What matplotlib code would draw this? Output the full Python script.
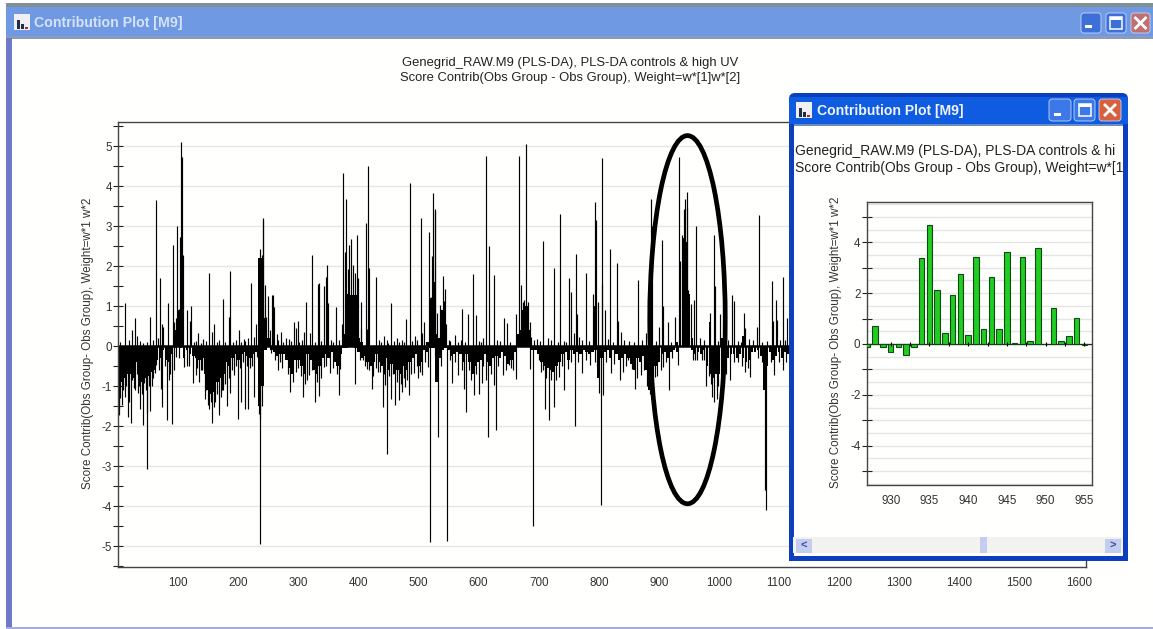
import numpy as np
import matplotlib
matplotlib.use("Agg")
import matplotlib.pyplot as plt
from matplotlib.patches import Rectangle, Ellipse, FancyBboxPatch

plt.rcParams['font.family'] = ['Liberation Sans', 'DejaVu Sans']
plt.rcParams['axes.unicode_minus'] = False

W, H = 1153, 629

# main plot, tall single observations
pos_obs = [12, 24, 29, 31, 54, 63, 70, 73, 75, 83, 92, 94, 96, 99, 101, 103, 104, 106, 108,
           115, 119, 122, 133, 151, 156, 159, 174, 185, 187, 201, 217, 221, 226, 230, 234,
           236, 237, 239, 241, 242, 244, 246, 249, 253, 257, 258, 260, 264, 271, 284, 293,
           296, 299, 310, 312, 319, 323, 332, 334, 343, 346, 348, 350, 362, 368, 372, 375,
           377, 380, 382, 384, 387, 391, 394, 398, 399, 404, 405, 413, 414, 416, 418, 429,
           443, 455, 480, 486, 494, 504, 506, 509, 518, 520, 522, 524, 525, 527, 528, 531,
           535, 536, 540, 542, 544, 546, 560, 573, 583, 590, 595, 608, 613, 618, 626, 643,
           647, 662, 667, 671, 674, 676, 679, 681, 683, 685, 687, 708, 715, 726, 736, 751,
           754, 758, 762, 764, 767, 778, 790, 794, 796, 798, 805, 806, 810, 819, 830, 832,
           837, 866, 879, 887, 889, 900, 905, 907, 916, 926, 934, 935, 939, 941, 942, 944,
           946, 947, 949, 953, 959, 962, 985, 991, 993, 1002, 1022, 1025, 1041, 1044, 1063,
           1066, 1088, 1090, 1095, 1097, 1106, 1113]
pos_val = [1.07, 0.40, 0.69, 0.25, 0.72, 3.65, 1.71, 0.55, 0.48, 1.07, 2.53, 0.60, 0.69, 3.00,
           0.92, 2.72, 5.10, 4.72, 2.27, 0.90, 0.63, 1.00, 0.33, 1.82, 0.36, 0.55, 1.17, 0.72,
           1.87, 0.40, 0.19, 1.58, 0.22, 0.55, 1.57, 2.42, 2.20, 2.28, 3.15, 3.20, 1.52, 0.73,
           1.25, 0.40, 1.28, 1.28, 0.98, 0.30, 0.36, 0.17, 0.60, 0.44, 0.63, 0.36, 1.10, 0.32,
           2.27, 1.55, 1.57, 1.50, 1.73, 2.03, 1.07, 0.98, 0.15, 0.55, 4.32, 2.36, 3.68, 1.92,
           2.52, 2.68, 2.03, 1.83, 2.78, 1.71, 0.44, 1.09, 3.08, 0.42, 4.50, 1.94, 1.73, 0.25,
           1.07, 0.67, 4.07, 0.25, 3.19, 0.33, 0.60, 2.84, 1.23, 2.25, 3.82, 1.61, 3.42, 3.38,
           0.82, 1.02, 0.27, 1.76, 1.13, 1.42, 0.55, 0.28, 0.92, 0.80, 1.79, 0.77, 0.19, 4.75,
           2.50, 1.77, 0.69, 0.57, 0.80, 4.75, 1.52, 1.10, 1.15, 5.04, 0.98, 1.10, 0.60, 0.23,
           2.62, 0.19, 1.96, 3.30, 1.71, 1.36, 0.32, 2.30, 0.80, 0.23, 1.82, 1.30, 3.59, 3.15,
           1.10, 4.69, 1.52, 0.90, 2.42, 2.08, 0.63, 0.36, 1.65, 0.33, 3.67, 3.00, 0.48, 2.65,
           1.00, 0.60, 0.73, 4.72, 2.13, 2.78, 3.42, 2.65, 3.67, 3.44, 3.86, 1.40, 1.05, 1.15,
           3.00, 0.82, 2.78, 1.50, 0.79, 1.28, 1.12, 0.82, 0.44, 0.47, 3.27, 1.63, 0.63, 1.15,
           0.65, 1.73, 0.69]
# short ones that stand just above the zero line
low_obs = [4, 18, 36, 42, 48, 58, 66, 126, 129, 138, 142, 146, 164, 168, 178, 192, 196, 205, 210,
           212, 266, 275, 280, 288, 302, 306, 327, 338, 354, 358, 435, 438, 447, 450, 460, 464,
           468, 472, 476, 490, 498, 512, 550, 553, 565, 570, 578, 600, 604, 630, 636, 652, 692,
           698, 703, 720, 732, 742, 746, 772, 784, 815, 824, 842, 850, 858, 872, 895, 920, 968,
           975, 998, 1010, 1015, 1032, 1036, 1050, 1056, 1072, 1080, 1102, 1110]
low_val = [.1, .15, .12, .08, .1, .14, .2, .1, .12, .08, .18, .12, .1, .16, .1, .1, .14, .1, .18,
           .12, .15, .1, .2, .12, .1, .14, .1, .12, .16, .1, .14, .1, .15, .08, .12, .2, .1, .14,
           .1, .12, .16, .1, .15, .12, .1, .14, .1, .12, .1, .16, .12, .1, .14, .18, .12, .15, .1,
           .12, .1, .14, .12, .18, .1, .14, .12, .1, .16, .12, .1, .2, .14, .12, .1, .16, .12, .1,
           .18, .14, .1, .12, .16, .14]

neg_obs = [1, 2, 6, 11, 16, 19, 21, 23, 28, 33, 37, 42, 44, 48, 49, 54, 58, 61, 64, 71, 73, 82,
           85, 90, 97, 110, 124, 129, 135, 140, 145, 149, 152, 156, 159, 168, 171, 175, 182,
           186, 193, 200, 205, 212, 217, 226, 231, 236, 237, 255, 267, 273, 287, 296, 307, 314,
           318, 328, 335, 342, 353, 368, 369, 394, 407, 415, 422, 425, 436, 441, 445, 448, 454,
           461, 468, 473, 478, 484, 493, 500, 506, 516, 519, 533, 547, 556, 565, 576, 579, 588,
           592, 601, 605, 612, 616, 625, 629, 640, 650, 658, 662, 686, 690, 704, 710, 717, 726,
           734, 742, 749, 760, 772, 785, 793, 801, 803, 807, 821, 835, 841, 849, 855, 860, 871,
           880, 893, 907, 917, 931, 956, 964, 971, 978, 989, 992, 996, 1018, 1032, 1044, 1052,
           1076, 1078, 1092, 1107]
neg_val = [-1.73, -1.56, -1.48, -1.27, -1.77, -1.39, -1.93, -0.85, -1.10, -1.18, -1.56, -1.98,
           -0.93, -1.68, -3.08, -1.62, -0.80, -0.68, -0.47, -1.08, -1.52, -1.85, -0.85, -1.95,
           -0.27, -0.52, -0.93, -0.72, -0.89, -0.60, -1.31, -1.48, -1.56, -1.92, -1.52, -1.73,
           -1.27, -1.10, -1.49, -1.18, -0.72, -1.83, -1.39, -1.58, -1.56, -1.28, -0.27, -1.81,
           -4.95, -0.18, -0.60, -0.55, -1.14, -0.64, -1.27, -0.85, -0.72, -1.39, -1.25, -0.52,
           -0.68, -1.22, -0.56, -0.95, -0.35, -0.56, -1.06, -0.75, -0.64, -1.52, -0.98, -2.70,
           -1.31, -1.48, -1.35, -1.14, -1.02, -1.22, -0.68, -0.80, -0.72, -0.52, -4.89, -2.27,
           -4.87, -0.93, -0.72, -1.08, -1.64, -0.85, -1.22, -1.20, -0.93, -0.85, -2.27, -0.98,
           -2.10, -0.72, -0.47, -0.60, -0.83, -0.56, -4.50, -0.64, -1.56, -1.85, -1.52, -0.77,
           -1.10, -0.56, -2.00, -0.68, -0.47, -0.39, -1.18, -3.97, -1.22, -0.68, -0.85, -0.64,
           -0.35, -0.56, -1.06, -0.72, -0.99, -0.77, -0.52, -1.10, -0.47, -0.35, -0.35, -0.35,
           -1.00, -1.27, -1.39, -1.31, -0.85, -0.40, -0.64, -0.77, -3.60, -4.10, -0.72, -0.60]
# mid-length ones inside the dense stretches
mid_obs = [4, 9, 14, 26, 31, 35, 40, 46, 52, 56, 68, 78, 87, 93, 102, 115, 118, 132, 138, 143,
           147, 154, 161, 164, 173, 178, 184, 190, 197, 203, 208, 214, 220, 223, 234, 239, 262,
           270, 283, 292, 300, 304, 311, 322, 331, 338, 346, 358, 364, 402, 411, 418, 429, 433,
           443, 451, 457, 464, 471, 476, 481, 488, 497, 503, 511, 527, 537, 552, 561, 572, 584,
           596, 608, 620, 633, 645, 654, 700, 707, 713, 720, 729, 738, 753, 765, 778, 797, 812,
           826, 845, 863, 875, 885, 890, 897, 903, 912, 922, 960, 975, 983, 986, 999, 1003, 1007,
           1012, 1025, 1038, 1048, 1065, 1072, 1086, 1100, 1112]
mid_val = [-1.3, -1.1, -1.0, -1.05, -.7, -1.0, -1.2, -1.1, -1.0, -1.0, -.6, -.5, -.7, -.6, -.3,
           -.5, -.5, -.55, -.6, -.6, -1.1, -1.4, -1.4, -1.2, -1.1, -.95, -.8, -.6, -.5, -.55, -.4,
           -.5, -.55, -.5, -1.7, -1.5, -.35, -.4, -.7, -.9, -.55, -.75, -.95, -.6, -.9, -.8, -.5,
           -.55, -.7, -.35, -.5, -.6, -.55, -.65, -.7, -.75, -.7, -.9, -.95, -.8, -.85, -.7, -.5,
           -.65, -.4, -.25, -.5, -.35, -.4, -.6, -.6, -.7, -.5, -.7, -.5, -.6, -.55, -.35, -.6,
           -.8, -.85, -.85, -.5, -.4, -.4, -.35, -.5, -.4, -.45, -.5, -.8, -.6, -1.2, -1.1, -.75,
           -.6, -.4, -.3, -.35, -.35, -.75, -.95, -1.0, -1.05, -1.05, -.7, -.4, -.5, -.55, -.3,
           -.4, -.4, -.4, -.4]

# main plot, level of the solid mass, one value per 5 observations from 0
base_neg = [-1.2, -.9, -.8, -.7, -.7, -.8, -.4, -.8, -.9, -.8, -.75, -.65, -.6, -.35, -.3, -.1,
            -.35, -.4, -.2, -.05, -.02, -.05, -.3, -.1, -.2, -.25, -.3, -.35, -.3, -.7, -1.1,
            -1.2, -1.15, -.9, -.8, -.7, -.4, -.5, -.3, -.2, -.35, -.2, -.15, -.25, -.3, -.2,
            -.15, -1.5, -1.0, -.1, -.03, -.1, -.15, -.25, -.2, -.2, -.35, -.55, -.7, -.35,
            -.35, -.5, -.7, -.2, -.35, -.6, -.7, -.5, -.3, -.2, -.3, -.15, -.4, -.5, -.2, -.05,
            -.05, -.02, -.03, -.05, -.15, -.3, -.25, -.4, -.5, -.4, -.2, -.4, -.5, -.3, -.6,
            -.45, -.7, -.6, -.7, -.5, -.6, -.4, -.3, -.2, -.5, -.4, -.1, -.15, -.05, -.05, -.9,
            -.3, -.1, -.05, -.1, -.25, -.2, -.15, -.2, -.4, -.2, -.4, -.7, -.5, -.4, -.35, -.2,
            -.4, -.5, -.3, -.25, -.3, -.15, -.25, -.45, -.35, -.15, -.02, -.02, -.02, -.02,
            -.02, -.1, -.1, -.2, -.4, -.5, -.55, -.6, -.65, -.5, -.4, -.2, -.15, -.35, -.1,
            -.2, -.15, -.2, -.1, -.15, -.2, -.15, -.1, -.8, -.3, -.15, -.1, -.3, -.1, -.2, -.35,
            -.3, -.2, -.3, -.45, -.6, -.3, -.4, -.25, -.6, -1.1, -.8, -.5, -.4, -.2, -.15, -.3,
            -.15, -.1, -.15, -.03, -.02, -.02, -.02, -.1, -.2, -.15, -.2, -.1, -.5, -.7, -.8,
            -.7, -.7, -.8, -.5, -.3, -.2, -.2, -.3, -.2, -.3, -.4, -.35, -.15, -.15, -.1, -.25,
            -1.1, -.5, -.15, -.35, -.25, -.15, -.3, -.15, -.2]
mass_obs = [95, 100, 105, 235, 240, 245, 250, 375, 380, 385, 390, 395, 400, 405, 515, 520, 525,
            530, 535, 540, 545, 665, 670, 675, 680, 685, 795, 930, 935, 940, 945, 950, 955, 985,
            1005, 1040]
mass_val = [.4, .9, .9, 2.2, 2.2, .7, .2, .3, 1.3, 1.28, 1.28, 1.28, .2, .1, .1, 1.2, 1.6, .3,
            .2, .9, .1, .3, .4, .9, 1.0, .4, 1.0, .1, 2.0, 2.7, 2.6, 1.3, .2, .6, .2, .25]

# zoomed window, bars
zoom_obs = list(range(927, 956))
zoom_val = [-.12, .72, -.12, -.30, -.10, -.45, -.12, 3.37, 4.67, 2.13, .43, 1.92, 2.75, .35,
            3.42, .60, 2.62, .60, 3.63, .03, 3.42, .13, 3.78, 0, 1.40, .12, .30, 1.02, -.03]

main_ticks = list(range(100, 1700, 100))
zoom_ticks = [930, 935, 940, 945, 950, 955]
ylabel = "Score Contrib(Obs Group- Obs Group), Weight=w*1 w*2"
win_title = "Contribution Plot [M9]"


def px_axes(zorder):
    ax = fig.add_axes([0, 0, 1, 1], zorder=zorder)
    ax.set_xlim(0, W)
    ax.set_ylim(H, 0)
    ax.axis('off')
    ax.patch.set_alpha(0)
    return ax


def rect(ax, x0, y0, x1, y1, color, **kw):
    ax.add_patch(Rectangle((x0, y0), x1 - x0, y1 - y0, fc=color, ec='none', **kw))


def box_of(x0, y0, x1, y1):
    return [x0 / W, 1 - y1 / H, (x1 - x0) / W, (y1 - y0) / H]


def win_button(ax, x0, y0, x1, y1, color, kind):
    ax.add_patch(FancyBboxPatch((x0 + 2, y0 + 2), x1 - x0 - 4, y1 - y0 - 4,
                                boxstyle="round,pad=2,rounding_size=3", fc=color, ec='#c8d8f4', lw=0.6))
    cx, cy = (x0 + x1) / 2, (y0 + y1) / 2
    if kind == 'min':
        rect(ax, cx - 6, y1 - 8, cx + 1, y1 - 5, 'white')
    elif kind == 'max':
        ax.add_patch(Rectangle((cx - 6, cy - 6), 12, 12, fc='none', ec='white', lw=1.1))
        rect(ax, cx - 6, cy - 6, cx + 6, cy - 3, 'white')
    else:
        ax.plot([cx - 5, cx + 5], [cy - 5, cy + 5], color='white', lw=2)
        ax.plot([cx - 5, cx + 5], [cy + 5, cy - 5], color='white', lw=2)


def icon(ax, x0, y0):
    rect(ax, x0, y0, x0 + 16, y0 + 16, '#eef0f4')
    rect(ax, x0 + 3, y0 + 6, x0 + 6, y0 + 15, '#20304c')
    rect(ax, x0 + 7, y0 + 10, x0 + 10, y0 + 15, '#20304c')
    rect(ax, x0 + 11, y0 + 13, x0 + 14, y0 + 15, '#a03030')


def style_left(ax, xpad):
    ax.yaxis.set_ticks_position('left')
    ax.tick_params(axis='y', which='both', direction='inout', color='#222222', width=0.8)
    ax.tick_params(axis='y', which='major', length=7, labelsize=8.4, labelcolor='#333333', pad=1)
    ax.tick_params(axis='y', which='minor', length=7)
    ax.tick_params(axis='x', length=0, labelsize=8.4, labelcolor='#333333', pad=xpad)
    for s in ax.spines.values():
        s.set_color('#444444')
        s.set_linewidth(1.0)


fig = plt.figure(figsize=(W / 100, H / 100), dpi=100, facecolor='white')

# big window frame
back = px_axes(0)
rect(back, 12, 38, W, 627, '#fffffd')
rect(back, 6, 3, W, 7, '#7f8f95')
rect(back, 6, 7, W, 38, '#7099e4')
rect(back, 6, 36, W, 39, '#8a9bc0')
rect(back, 6, 38, 12, 629, '#7078c8')
rect(back, 6, 627, W, 629, '#a2abe4')
icon(back, 14, 14)
back.text(34, 23.5, win_title, color='#d5e3f8', fontsize=10.2, fontweight='bold', va='center', ha='left')
win_button(back, 1081, 13, 1101, 33, '#3d6fd8', 'min')
win_button(back, 1106, 13, 1126, 33, '#3d6fd8', 'max')
win_button(back, 1131, 13, 1150, 33, '#c07070', 'close')
back.text(570, 63, "Genegrid_RAW.M9 (PLS-DA), PLS-DA controls & high UV", fontsize=9.4,
          color='#222222', ha='center', va='center')
back.text(570, 78, "Score Contrib(Obs Group - Obs Group), Weight=w*[1]w*[2]", fontsize=9.4,
          color='#222222', ha='center', va='center')
back.text(88, 343, ylabel, rotation=90, fontsize=8.4, color='#333333', ha='center', va='center')

# main contribution plot
ax = fig.add_axes(box_of(118, 122, 1086, 567), zorder=1)
ax.patch.set_alpha(0)
ax.set_xlim(0, 1610.7)
ax.set_ylim(-5.52, 5.6)
ax.set_yticks(range(-5, 6))
ax.set_yticks(np.arange(-5.5, 6, 1), minor=True)
ax.set_xticks(main_ticks)
ax.grid(axis='y', which='major', color='#e6e6e6', lw=1.0)
ax.set_axisbelow(True)
style_left(ax, 7)
base_x = np.arange(len(base_neg)) * 5
ax.bar(base_x, base_neg, width=4.6, color='black', lw=0)
ax.bar(mass_obs, mass_val, width=4.6, color='black', lw=0)
ax.vlines(pos_obs, 0, pos_val, color='black', lw=0.85)
ax.vlines(low_obs, 0, low_val, color='black', lw=0.85)
ax.vlines(neg_obs, 0, neg_val, color='black', lw=0.85)
ax.vlines(mid_obs, 0, mid_val, color='black', lw=0.85)
ax.axhline(0, xmax=0.7, color='black', lw=1.8)
ax.add_patch(Ellipse((947.6, 0.66), 125.6, 9.2, fc='none', ec='black', lw=3.4, zorder=5))

# small window on top
front = px_axes(2)
front.add_patch(FancyBboxPatch((793, 97), 331, 460, boxstyle="round,pad=4,rounding_size=6",
                               fc='#0b3fc0', ec='none'))
rect(front, 789, 110, 1128, 561, '#0b3fc0')
rect(front, 794, 125, 1123, 556, '#fffffd')
rect(front, 789, 97, 1128, 124, '#0f5ce0')
rect(front, 794, 124, 1123, 126, '#6c8cc0')
rect(front, 793, 537, 1123, 553, '#f2f2ee')
rect(front, 796, 539, 812, 553, '#c4ccf0')
rect(front, 1105, 539, 1121, 553, '#c4ccf0')
rect(front, 980, 537, 987, 553, '#c4ccf0')
front.text(804, 546, "<", color='#3a50a0', fontsize=8, fontweight='bold', ha='center', va='center')
front.text(1113, 546, ">", color='#3a50a0', fontsize=8, fontweight='bold', ha='center', va='center')
icon(front, 796, 102)
front.text(817, 111, win_title, color='#f0f4ff', fontsize=10.1, fontweight='bold', ha='left', va='center')
win_button(front, 1049, 99, 1071, 121, '#3d78e8', 'min')
win_button(front, 1074, 99, 1095, 121, '#3d78e8', 'max')
win_button(front, 1099, 99, 1121, 121, '#d8603c', 'close')
# these two lines are cut by the window edge in the reference
front.text(795, 151, "Genegrid_RAW.M9 (PLS-DA), PLS-DA controls & hi", fontsize=10.0,
           color='#222222', ha='left', va='center')
front.text(795, 168, "Score Contrib(Obs Group - Obs Group), Weight=w*[1", fontsize=10.0,
           color='#222222', ha='left', va='center')
front.text(836, 342, ylabel, rotation=90, fontsize=8.4, color='#333333', ha='center', va='center')

# zoomed bars
axz = fig.add_axes(box_of(866.7, 201.7, 1091.7, 485), zorder=3)
axz.set_facecolor('#fffffd')
axz.set_xlim(926.9, 955.95)
axz.set_ylim(-5.55, 5.6)
axz.set_yticks(range(-5, 6))
axz.set_yticklabels(['', '-4', '', '-2', '', '0', '', '2', '', '4', ''])
axz.set_xticks(zoom_ticks)
axz.set_yticks(np.arange(-5.5, 6, 0.5), minor=True)
axz.grid(axis='y', which='both', color='#e4e4e4', lw=1.0)
axz.set_axisbelow(True)
style_left(axz, 7)
axz.tick_params(axis='y', which='minor', length=0)
axz.vlines(zoom_ticks + [932.5, 937.5, 942.5, 947.5, 952.5], -0.08, 0.08, color='black', lw=0.8, zorder=4)
axz.axhline(0, color='#222222', lw=0.9, zorder=1)
axz.bar(zoom_obs, zoom_val, width=0.72, color='#22cc22', edgecolor='#0e4a12', lw=0.8, zorder=3)

fig.savefig("out.png", dpi=100)
